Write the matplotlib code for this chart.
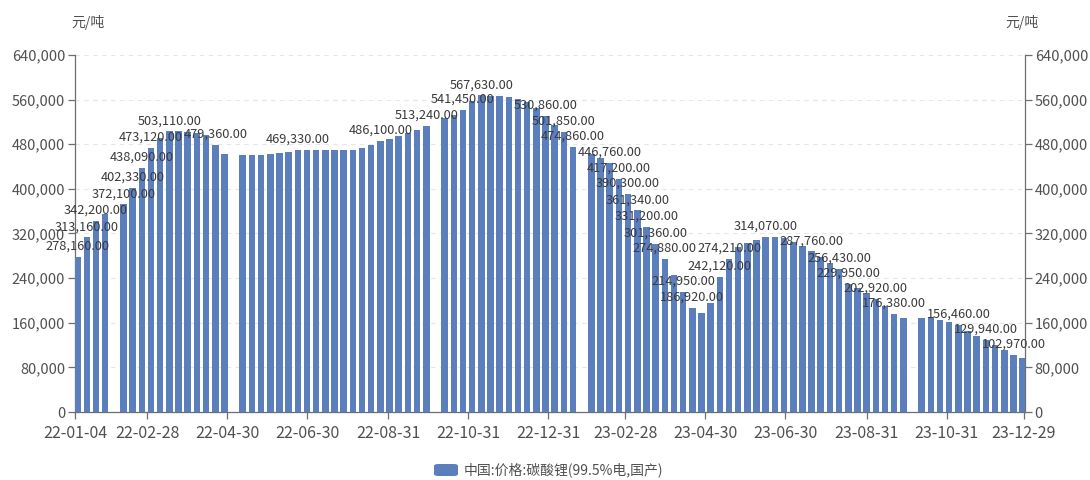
import matplotlib
matplotlib.use("Agg")
import matplotlib.pyplot as plt
import matplotlib.dates as mdates
from matplotlib.ticker import FuncFormatter, FixedLocator
from matplotlib.patches import FancyBboxPatch
import numpy as np
import pandas as pd

plt.rcParams['font.family'] = ['Noto Sans CJK SC', 'DejaVu Sans']

# ---------------- data ----------------
start_date = "2022-01-06"          # weekly observations
prices = [
    278160, 313160, 342200, 355000, None, 372100, 402330, 438090, 473120, 492000,
    503110, 503000, 502000, 500000, 497000, 479360, 462000, None, 460000, 460000,
    461000, 462000, 465000, 467000, 469330, 470000, 470000, 470000, 469000, 469000,
    470000, 473000, 478000, 486100, 490000, 495000, 500000, 505000, 513240, None,
    527000, 532000, 541450, 558000, 567630, 567000, 566000, 565000, 562000, 555000,
    545000, 530860, 515000, 501850, 474860, None, 462000, 455000, 446760, 417200,
    390300, 361340, 331200, 301360, 274880, 245000, 214950, 186920, 178000, 195000,
    242120, 274210, 296000, 303000, 309000, 314070, 314000, 312000, 305000, 297000,
    287760, 278000, 267000, 256430, 229950, 222000, 214000, 202920, 190000, 176380,
    168000, None, 168000, 170000, 165000, 162000, 156460, 145000, 136000, 129940,
    120000, 111000, 102970, 97000,
]
labeled = [0, 1, 2, 5, 6, 7, 8, 10, 15, 24, 33, 38, 42, 44, 51, 53, 54, 58, 59, 60,
           61, 62, 63, 64, 66, 67, 70, 71, 75, 80, 83, 84, 87, 89, 96, 99, 102]
tick_dates = ["2022-01-04", "2022-02-28", "2022-04-30", "2022-06-30", "2022-08-31",
              "2022-10-31", "2022-12-31", "2023-02-28", "2023-04-30", "2023-06-30",
              "2023-08-31", "2023-10-31", "2023-12-29"]
y_ticks = [0, 80000, 160000, 240000, 320000, 400000, 480000, 560000, 640000]
unit = "元/吨"
series_name = "中国:价格:碳酸锂(99.5%电,国产)"

# ---------------- plot ----------------
bar_color = "#5b7ebc"
axis_color = "#6e6e6e"
text_color = "#505050"

dates = pd.date_range(start_date, periods=len(prices), freq="7D")
vals = np.array([np.nan if v is None else v for v in prices], dtype=float)

fig = plt.figure(figsize=(10.9, 4.8), dpi=100)
ax = fig.add_axes([75 / 1090, 68 / 480, 950 / 1090, 357 / 480])

mask = ~np.isnan(vals)
ax.bar(dates[mask], vals[mask], width=5.0, color=bar_color, zorder=3)

for i in labeled:
    if mask[i]:
        ax.annotate(f"{vals[i]:,.2f}", (mdates.date2num(dates[i]), vals[i]),
                    xytext=(0, 3), textcoords="offset points", ha="center", va="bottom",
                    fontsize=9.2, color="#3a3a3a", zorder=4)

ax.set_xlim(pd.Timestamp("2022-01-04"), pd.Timestamp("2023-12-29 20:00"))
ax.set_ylim(0, 640000)

td = pd.to_datetime(tick_dates)
ax.xaxis.set_major_locator(FixedLocator(mdates.date2num(td)))
ax.set_xticklabels([d.strftime("%y-%m-%d") for d in td])
ax.set_yticks(y_ticks)
ax.yaxis.set_major_formatter(FuncFormatter(lambda v, p: f"{int(v):,}"))

ax.grid(axis="y", color="#e6e6e6", linestyle=(0, (4, 4)), linewidth=0.8, zorder=0)

ax.spines["top"].set_visible(False)
for s in ["left", "right", "bottom"]:
    ax.spines[s].set_color(axis_color)
    ax.spines[s].set_linewidth(0.9)

ax.tick_params(axis="x", colors=axis_color, labelcolor=text_color, labelsize=11.5,
               length=5, width=0.9, pad=4)
ax.tick_params(axis="y", colors=axis_color, labelcolor=text_color, labelsize=10.5,
               length=5, width=0.9, pad=2, right=True, labelright=True)

fig.text(88 / 1090, 1 - 22 / 480, unit, ha="center", va="center", fontsize=10, color=text_color)
fig.text(1022 / 1090, 1 - 22 / 480, unit, ha="center", va="center", fontsize=10, color=text_color)

# legend
lx, ly = 434 / 1090, 1 - 470 / 480
sw = FancyBboxPatch((lx, ly - 6 / 480), 24 / 1090, 12 / 480,
                    boxstyle="round,pad=0,rounding_size=0.004",
                    transform=fig.transFigure, facecolor=bar_color, edgecolor="none")
fig.patches.append(sw)
fig.text(lx + 30 / 1090, ly, series_name, ha="left", va="center", fontsize=10, color=text_color)

fig.savefig("out.png", dpi=100)
